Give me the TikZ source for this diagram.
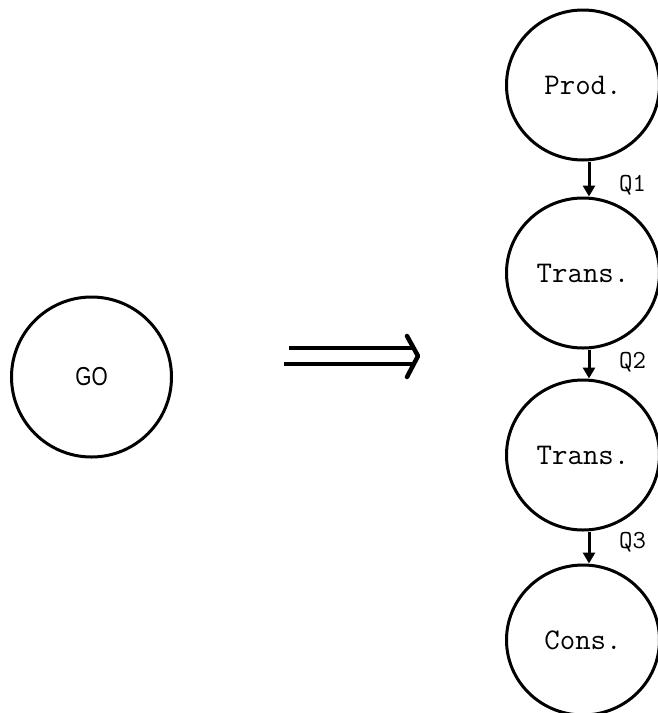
\documentclass[tikz,border=0pt]{standalone}
\usepackage{fontspec}
\newfontfamily\gofont{Liberation Sans}
\usetikzlibrary{shapes.geometric,arrows.meta}
\tikzset{
  bubble/.style={ellipse, draw, line width=3pt, minimum width=153pt, minimum height=150pt, inner sep=0pt,
     font=\fontsize{30}{34}\selectfont\ttfamily},
  flow/.style={line width=3pt, -{Triangle[width=12pt,length=11pt]}},
  qlabel/.style={anchor=west, inner sep=0pt, font=\fontsize{26}{30}\selectfont\ttfamily},
  bar/.style={line width=4.5pt},
  chevron/.style={line width=4.5pt, line join=round, line cap=round}
}
\begin{document}
\begin{tikzpicture}[x=1pt,y=1pt]
\useasboundingbox (0,0) rectangle (657,-713);
\node[circle, draw, line width=3pt, minimum size=160pt, inner sep=0pt,
      font=\fontsize{26}{30}\selectfont\gofont] (go) at (91.5,-377) {\scalebox{0.8}[1]{GO}};
% double arrow
\coordinate (ta) at (289,-348);
\coordinate (tb) at (412,-348);
\coordinate (ba) at (284,-364);
\coordinate (bb) at (412,-364);
\coordinate (ha) at (407,-336);
\coordinate (hb) at (418,-356);
\coordinate (hc) at (407,-377);
\draw[bar] (ta) -- (tb);
\draw[bar] (ba) -- (bb);
\draw[chevron] (ha) -- (hb) -- (hc);
% chain
\node[bubble] (prod) at (583,-85) {Prod.};
\node[bubble] (trans1) at (583,-273) {Trans.};
\node[bubble] (trans2) at (583,-455) {Trans.};
\node[bubble] (cons) at (583,-640) {Cons.};
\draw[flow] ([xshift=6pt]prod.south) -- ([xshift=6pt]trans1.north);
\draw[flow] ([xshift=6pt]trans1.south) -- ([xshift=6pt]trans2.north);
\draw[flow] ([xshift=6pt]trans2.south) -- ([xshift=6pt]cons.north);
\node[qlabel] (q1) at (619,-185) {Q1};
\node[qlabel] (q2) at (619,-362) {Q2};
\node[qlabel] (q3) at (619,-542) {Q3};
\end{tikzpicture}
\end{document}
